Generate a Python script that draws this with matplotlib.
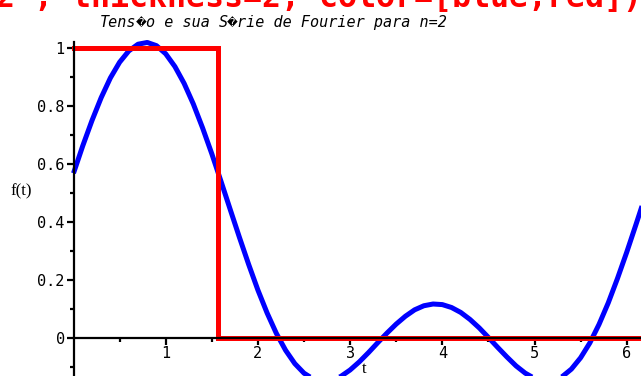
import numpy as np
import matplotlib
matplotlib.use("Agg")
import matplotlib.pyplot as plt
from matplotlib.ticker import FixedLocator

# Sample times of the truncated Fourier series (step 0.1)
t_series = np.round(np.arange(0.0, 6.25, 0.1), 1)
# Fourier series of the voltage (n = 2) at those times
f_series = [
    0.568, 0.662, 0.749, 0.828, 0.896, 0.950, 0.989, 1.012, 1.018, 1.007,
    0.979, 0.935, 0.877, 0.806, 0.724, 0.635, 0.540, 0.443, 0.347, 0.254,
    0.166, 0.087, 0.017, -0.041, -0.087, -0.120, -0.140, -0.148, -0.144, -0.131,
    -0.109, -0.081, -0.049, -0.015, 0.018, 0.049, 0.076, 0.098, 0.112, 0.118,
    0.116, 0.106, 0.089, 0.065, 0.036, 0.003, -0.031, -0.064, -0.095, -0.120,
    -0.138, -0.147, -0.146, -0.132, -0.106, -0.067, -0.016, 0.048, 0.122, 0.206,
    0.296, 0.391, 0.488,
]

# Square-wave voltage: 1 on [0, pi/2], 0 on [pi/2, 2pi]
t_square = [0.0, np.pi / 2, np.pi / 2, 2 * np.pi]
f_square = [1.0, 1.0, 0.0, 0.0]

y_ticks = [0, 0.2, 0.4, 0.6, 0.8, 1]
y_tick_labels = ["0", "0.2", "0.4", "0.6", "0.8", "1"]
x_ticks = [1, 2, 3, 4, 5, 6]
x_tick_labels = ["1", "2", "3", "4", "5", "6"]

title = "Tens\ufffdo e sua S\ufffdrie de Fourier para n=2"
command_tail = "2`, thickness=2, color=[blue,red]);"

W, H = 641, 376
fig = plt.figure(figsize=(W / 100, H / 100), dpi=100)
ax = fig.add_axes([0, 0, 1, 1])

x0_px, sx = 73.5, 92.2
y0_px, sy = 338.3, 290.6
ax.set_xlim(-x0_px / sx, (W - x0_px) / sx)
ax.set_ylim(-(H - y0_px) / sy, y0_px / sy)

ax.plot(t_series, f_series, color=(0, 0, 1), lw=3.6, solid_capstyle="butt", zorder=2)
ax.plot(t_square, f_square, color=(1, 0, 0), lw=3.6, solid_joinstyle="miter", zorder=3)

for s in ["top", "right"]:
    ax.spines[s].set_visible(False)
ax.spines["left"].set_position(("data", 0))
ax.spines["bottom"].set_position(("data", 0))
ax.spines["left"].set_bounds(min(f_series), max(f_series))
ax.spines["bottom"].set_bounds(0, 2 * np.pi)
for s in ["left", "bottom"]:
    ax.spines[s].set_linewidth(1.6)
    ax.spines[s].set_zorder(4)
ax.patch.set_visible(False)

mono = ["DejaVu Sans Mono", "DejaVu Sans"]
ax.set_xticks(x_ticks)
ax.set_xticklabels(x_tick_labels, family=mono, fontsize=11)
ax.set_yticks(y_ticks)
ax.set_yticklabels(y_tick_labels, family=mono, fontsize=11)
ax.xaxis.set_minor_locator(FixedLocator([0.5, 1.5, 2.5, 3.5, 4.5, 5.5]))
ax.yaxis.set_minor_locator(FixedLocator([-0.1, 0.1, 0.3, 0.5, 0.7, 0.9]))
ax.tick_params(which="major", direction="out", length=4.8, width=1.6)
ax.tick_params(which="minor", direction="out", length=2.6, width=1.6)
ax.tick_params(axis="x", which="major", pad=0.5)
ax.tick_params(axis="y", which="major", pad=1.5)

fig.text(21 / W, 1 - 191 / H, "f(t)", family="Liberation Serif", fontsize=12,
         ha="center", va="center")
fig.text(364 / W, 1 - 369 / H, "t", family="Liberation Serif", fontsize=12,
         ha="center", va="center")

# Title in a monospaced oblique face, laid out cell by cell; runs of ordinary
# characters share one text, replacement characters use a face that has them.
title_fs = 10.9
cell = 0.602 * title_fs * 100 / 72
title_x, title_base = 100, 27
runs = []
for i, ch in enumerate(title):
    special = ch == "\ufffd"
    if runs and runs[-1][2] == special and not special:
        runs[-1][1] += ch
    else:
        runs.append([i, ch, special])
for start, text, special in runs:
    if special:
        fig.text((title_x + (start + 0.5) * cell) / W, 1 - (title_base - 1) / H,
                 text, family="DejaVu Sans", fontsize=7.6, ha="center",
                 va="baseline")
    else:
        fig.text((title_x + start * cell) / W, 1 - title_base / H, text,
                 family="DejaVu Sans Mono", style="oblique", fontsize=title_fs,
                 ha="left", va="baseline")

fig.text(-4 / W, 1 - 7 / H, command_tail, family="DejaVu Sans Mono",
         weight="bold", fontsize=22.8, color=(1, 0, 0), ha="left",
         va="baseline")

fig.savefig("out.png", dpi=100)
